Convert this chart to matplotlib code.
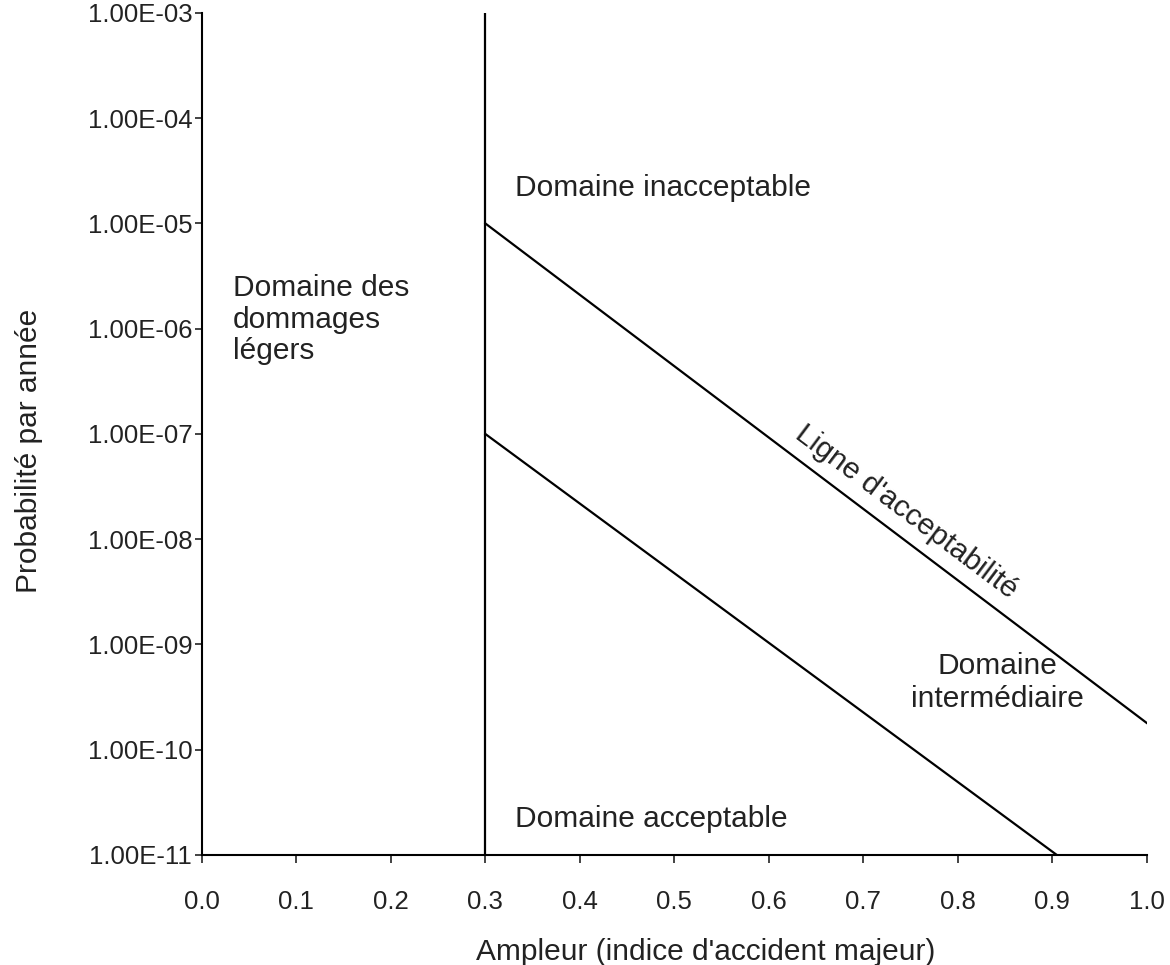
import matplotlib
matplotlib.use("Agg")
import matplotlib.pyplot as plt
from matplotlib.ticker import NullLocator

plt.rcParams['font.family'] = ['Liberation Sans', 'DejaVu Sans']

# axes ticks
x_ticks = [0.0, 0.1, 0.2, 0.3, 0.4, 0.5, 0.6, 0.7, 0.8, 0.9, 1.0]
x_tick_labels = ["0.0", "0.1", "0.2", "0.3", "0.4", "0.5", "0.6", "0.7", "0.8", "0.9", "1.0"]
y_ticks = [1e-11, 1e-10, 1e-9, 1e-8, 1e-7, 1e-6, 1e-5, 1e-4, 1e-3]
y_tick_labels = ["1.00E-11", "1.00E-10", "1.00E-09", "1.00E-08", "1.00E-07",
                 "1.00E-06", "1.00E-05", "1.00E-04", "1.00E-03"]

# frontiere des dommages legers (x = 0.3)
limite_x = [0.3, 0.3]
limite_y = [1e-11, 1e-3]
# ligne d'acceptabilite
accept_x = [0.3, 1.0]
accept_y = [1e-5, 1.8e-10]
# ligne inferieure (domaine acceptable)
bas_x = [0.3, 0.905]
bas_y = [1e-7, 1e-11]

fig = plt.figure(figsize=(11.7, 9.65), dpi=100)
ax = fig.add_axes([0.1726, 0.114, 0.8074, 0.8726])

ax.plot(limite_x, limite_y, color='black', lw=1.6)
ax.plot(accept_x, accept_y, color='black', lw=1.6)
ax.plot(bas_x, bas_y, color='black', lw=1.6)

ax.set_yscale('log')
ax.set_xlim(0.0, 1.0)
ax.set_ylim(1e-11, 1e-3)
ax.set_xticks(x_ticks)
ax.set_xticklabels(x_tick_labels)
ax.set_yticks(y_ticks)
ax.set_yticklabels(y_tick_labels)
ax.yaxis.set_minor_locator(NullLocator())

for s in ['top', 'right']:
    ax.spines[s].set_visible(False)
for s in ['left', 'bottom']:
    ax.spines[s].set_linewidth(1.5)
    ax.spines[s].set_clip_on(False)

ax.tick_params(axis='y', direction='out', length=5, width=1.2, labelsize=18.5, pad=2, colors='#222222')
ax.tick_params(axis='x', direction='out', length=6, width=1.2, labelsize=18.5, pad=19, colors='#222222')

ax.set_xlabel("Ampleur (indice d'accident majeur)", fontsize=21.5, color='#222222')
ax.set_ylabel("Probabilité par année", fontsize=21.5, color='#222222')
ax.xaxis.set_label_coords(0.533, -0.098)
ax.yaxis.set_label_coords(-0.168, 0.48)

txt = dict(fontsize=21.5, color='#222222')
ax.text(0.331, 10**-4.667, "Domaine inacceptable", ha='left', va='center', **txt)
ax.text(0.033, 10**-5.914, "Domaine des\ndommages\nlégers", ha='left', va='center',
        linespacing=1.17, **txt)
ax.text(0.746, 10**-7.74, "Ligne d'acceptabilité", ha='center', va='center',
        rotation=-36.9, rotation_mode='anchor', **txt)
ax.text(0.842, 10**-9.36, "Domaine\nintermédiaire", ha='center', va='center',
        linespacing=1.2, **txt)
ax.text(0.331, 10**-10.657, "Domaine acceptable", ha='left', va='center', **txt)

fig.savefig("out.png", dpi=100)
